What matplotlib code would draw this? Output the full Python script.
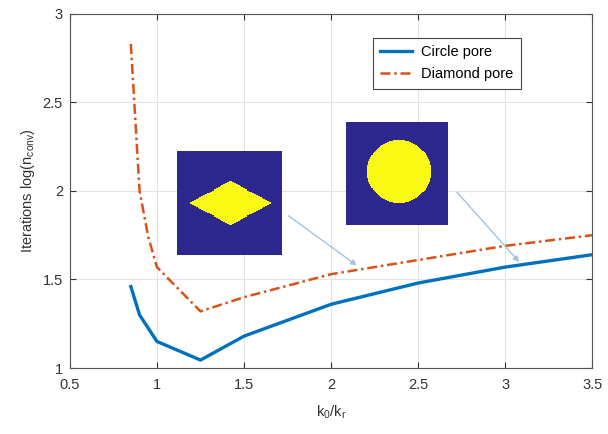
import numpy as np
import matplotlib
matplotlib.use("Agg")
import matplotlib.pyplot as plt

plt.rcParams['font.family'] = ['Liberation Sans', 'DejaVu Sans']
plt.rcParams['mathtext.fontset'] = 'custom'
plt.rcParams['mathtext.rm'] = 'Liberation Sans'

ratio_circle = [0.85, 0.9, 1.0, 1.25, 1.5, 2.0, 2.5, 3.0, 3.5]
iters_circle = [1.46, 1.30, 1.15, 1.045, 1.18, 1.36, 1.48, 1.57, 1.64]
ratio_diamond = [0.85, 0.9, 0.95, 1.0, 1.25, 1.5, 2.0, 2.5, 3.0, 3.5]
iters_diamond = [2.83, 2.0, 1.74, 1.57, 1.32, 1.40, 1.53, 1.61, 1.69, 1.75]
xticks = [0.5, 1, 1.5, 2, 2.5, 3, 3.5]
yticks = [1, 1.5, 2, 2.5, 3]

fig = plt.figure(figsize=(6.08, 4.34), dpi=100)
ax = fig.add_axes([0.115, 0.152, 0.859, 0.816])
ax.plot(ratio_circle, iters_circle, color='#0072BD', lw=2.4, label='Circle pore')
ax.plot(ratio_diamond, iters_diamond, color='#D95319', lw=1.8, ls=(0, (4, 1.5, 1, 1.5)), label='Diamond pore')
ax.set_xlim(0.5, 3.5)
ax.set_ylim(1, 3)
ax.set_xticks(xticks)
ax.set_xticklabels([f"{t:g}" for t in xticks])
ax.set_yticks(yticks)
ax.set_yticklabels([f"{t:g}" for t in yticks])
ax.grid(True, color='#e3e3e3', lw=0.8)
ax.tick_params(direction='in', top=True, right=True, labelsize=10.5, colors='#333333', length=4)
ax.tick_params(axis='x', pad=7)
ax.tick_params(axis='y', pad=5)
for s in ax.spines.values():
    s.set_color('#555555')
ax.set_xlabel(r'k$_\mathrm{0}$/k$_\mathrm{r}$', fontsize=10.5, color='#333333', labelpad=8)
ax.set_ylabel(r'Iterations log(n$_\mathrm{conv}$)', fontsize=10.5, color='#333333')
leg = ax.legend(loc='upper right', bbox_to_anchor=(0.877, 0.952), fontsize=10.5,
                fancybox=False, framealpha=1, edgecolor='#444444', handlelength=2.2,
                borderpad=0.5, labelspacing=0.55, handletextpad=0.6)
leg.get_frame().set_linewidth(0.8)

blue = np.array([0.18, 0.16, 0.56])
yellow = np.array([0.98, 0.98, 0.08])
n = 100
yy, xx = np.mgrid[0:n, 0:n] + 0.5
dia = (np.abs(xx - 51) / 40 + np.abs(yy - 50) / 21) <= 1
cir = ((xx - 52) ** 2 + (yy - 48) ** 2) <= 31 ** 2
img_d = np.where(dia[..., None], yellow, blue)
img_c = np.where(cir[..., None], yellow, blue)

W, H = 608, 434
def add_img(img, x0, y0, x1, y1):
    a = fig.add_axes([x0 / W, 1 - y1 / H, (x1 - x0) / W, (y1 - y0) / H])
    a.imshow(img, aspect='auto', interpolation='nearest')
    a.axis('off')

add_img(img_d, 177, 151, 282, 255)
add_img(img_c, 346, 122, 448, 225)

def arrow(x0, y0, x1, y1):
    fig.add_artist(matplotlib.patches.FancyArrowPatch(
        (x0 / W, 1 - y0 / H), (x1 / W, 1 - y1 / H), transform=fig.transFigure,
        arrowstyle='-|>', mutation_scale=8, color='#9fc3e0', lw=1))

arrow(286, 214, 359, 267)
arrow(455, 190, 521, 264)

fig.savefig('out.png', dpi=100)
